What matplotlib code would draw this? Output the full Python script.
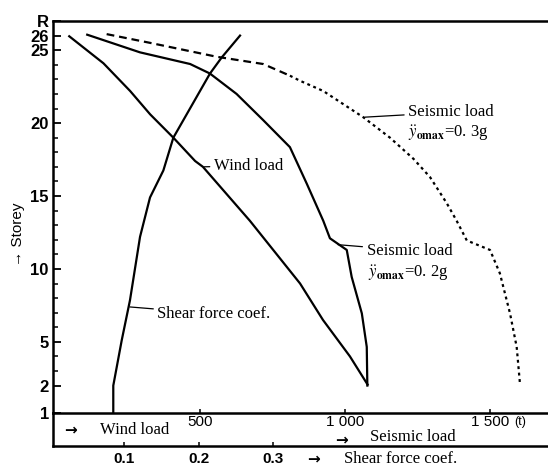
import matplotlib
matplotlib.use("Agg")
import matplotlib.pyplot as plt

plt.rcParams['font.family'] = ['Liberation Serif', 'DejaVu Sans']
plt.rcParams['mathtext.fontset'] = 'stix'

# ---------------- data ----------------
wind_storey = [26.0, 24.1, 22.2, 20.6, 19.0, 17.4, 17.0, 13.3, 9.0, 6.5, 4.0, 2.0]
wind_load = [46, 167, 259, 328, 408, 483, 510, 672, 845, 924, 1017, 1080]

seis02_storey = [26.06, 24.85, 24.05, 23.4, 22.0, 20.2, 18.35, 15.85, 13.3, 12.1, 11.3, 9.45, 6.95, 4.65, 2.0]
seis02_load = [111, 293, 466, 534, 626, 718, 810, 868, 925, 948, 1006, 1023, 1058, 1075, 1077]

seis03_storey = [26.1, 25.5, 24.55, 24.05, 23.25, 22.9, 22.2, 20.4, 19.0, 17.55, 16.3, 14.5, 13.3,
                 11.95, 11.3, 9.7, 6.95, 4.65, 2.2]
seis03_load = [178, 328, 557, 718, 810, 845, 925, 1063, 1155, 1236, 1293, 1351, 1385,
               1420, 1500, 1534, 1569, 1592, 1603]

ground_level = 0.12
shear_storey = [ground_level, 2.0, 5.1, 7.85, 12.2, 14.9, 16.75, 19.0, 23.4, 24.5, 26.0]
shear_coef = [0.0856, 0.0856, 0.0969, 0.108, 0.1215, 0.1349, 0.1528, 0.1662, 0.2154, 0.2311, 0.2557]

storey_tick_values = [ground_level, 2, 5, 10, 15, 20, 25, 26, 27]
storey_tick_labels = ["1", "2", "5", "10", "15", "20", "25", "26", "R"]
storey_minor = [3, 4, 6, 7, 8, 9, 11, 12, 13, 14, 16, 17, 18, 19, 21, 22, 23, 24]

load_ticks = [500, 1000, 1500]
load_tick_labels = ["500", "1 000", "1 500"]
coef_ticks = [0.1, 0.2, 0.3]
coef_tick_labels = ["0.1", "0.2", "0.3"]

load_lim = (-7, 1700)
coef_lim = (0.0047, 0.669)
storey_lim = (ground_level, 27)

# ---------------- figure ----------------
W, H = 548, 467
fig = plt.figure(figsize=(W / 100, H / 100), dpi=100)

def fx(px):
    return px / W

def fy(py):
    return 1 - py / H

ax = fig.add_axes([fx(53), fy(413), fx(548) - fx(53), fy(21) - fy(413)])
ax.set_xlim(*load_lim)
ax.set_ylim(*storey_lim)

lw = 1.6
ax.plot(wind_load, wind_storey, color='black', lw=lw, solid_capstyle='butt')
ax.plot(seis02_load, seis02_storey, color='black', lw=lw)
ax.plot(seis03_load[:5], seis03_storey[:5], color='black', lw=lw, dashes=(3.5, 2.2))
ax.plot(seis03_load[4:], seis03_storey[4:], color='black', lw=lw, dashes=(1.3, 1.6))

axc = ax.twiny()
axc.set_xlim(*coef_lim)
axc.plot(shear_coef, shear_storey, color='black', lw=lw)
axc.axis('off')

ax.spines['right'].set_visible(False)
for s in ['top', 'left', 'bottom']:
    ax.spines[s].set_linewidth(1.8)

ax.set_yticks(storey_tick_values)
ax.set_yticklabels(storey_tick_labels, fontfamily='Liberation Sans', fontweight='bold', fontsize=12)
ax.set_yticks(storey_minor, minor=True)
ax.tick_params(axis='y', which='major', direction='in', length=6, width=1.3, pad=3)
ax.tick_params(axis='y', which='minor', direction='in', length=3.5, width=1.1)

ax.set_xticks(load_ticks)
ax.set_xticklabels(load_tick_labels, fontfamily='Liberation Sans', fontsize=11)
ax.tick_params(axis='x', which='major', direction='in', length=3, width=1.1, pad=1.5)
ax.annotate("(t)", xy=(load_ticks[-1], 0), xycoords=('data', 'axes fraction'),
            xytext=(24, -9), textcoords='offset pixels', ha='left', va='center',
            fontfamily='Liberation Sans', fontsize=9)

# box below
axb = fig.add_axes([fx(53), fy(446), fx(548) - fx(53), fy(413) - fy(446)])
axb.set_xlim(*coef_lim)
axb.set_ylim(0, 1)
axb.patch.set_alpha(0)
axb.spines['right'].set_visible(False)
axb.spines['top'].set_visible(False)
axb.spines['left'].set_linewidth(1.8)
axb.spines['bottom'].set_linewidth(1.8)
axb.set_yticks([])
axb.set_xticks(coef_ticks)
axb.set_xticklabels(coef_tick_labels, fontfamily='Liberation Sans', fontweight='bold', fontsize=11)
axb.tick_params(axis='x', direction='in', length=3, width=1.1, pad=4)

# texts in/under box
arrow_kw = dict(fontfamily='DejaVu Sans', fontsize=11, fontweight='bold', va='center', ha='left')
fig.text(fx(64), fy(430), "→", **arrow_kw)
fig.text(fx(100), fy(430), "Wind load", fontsize=12, va='center', ha='left')
fig.text(fx(335), fy(440), "→", **arrow_kw)
fig.text(fx(370), fy(437), "Seismic load", fontsize=12, va='center', ha='left')
fig.text(fx(307), fy(459), "→", **arrow_kw)
fig.text(fx(344), fy(459), "Shear force coef.", fontsize=12, va='center', ha='left')

# y-axis title
fig.text(fx(18), fy(234), "→ Storey", rotation=90, fontfamily='Liberation Sans', fontsize=11,
         va='center', ha='center')

# annotations
arrow = dict(arrowstyle='-', color='black', lw=0.9, shrinkA=1, shrinkB=1)
ax.annotate("Wind load", xy=(wind_load[6], wind_storey[6]), xytext=(11, 1),
            textcoords='offset pixels', ha='left', va='center', fontsize=12, arrowprops=arrow)

axc.annotate("Shear force coef.", xy=(0.106, 7.4), xytext=(29, -7),
             textcoords='offset pixels', ha='left', va='center', fontsize=12, arrowprops=arrow)

p02 = (971, 11.67)
ax.annotate("Seismic load", xy=p02, xytext=(30, -6), textcoords='offset pixels',
            ha='left', va='center', fontsize=12, arrowprops=arrow)
ax.annotate(r"$\ddot{y}_{\mathbf{omax}}$=0. 2g", xy=p02, xytext=(31, -29), textcoords='offset pixels',
            ha='left', va='center', fontsize=12)

p03 = (seis03_load[7], seis03_storey[7])
ax.annotate("Seismic load", xy=p03, xytext=(45, 5), textcoords='offset pixels',
            ha='left', va='center', fontsize=12, arrowprops=arrow)
ax.annotate(r"$\ddot{y}_{\mathbf{omax}}$=0. 3g", xy=p03, xytext=(45, -16), textcoords='offset pixels',
            ha='left', va='center', fontsize=12)

fig.savefig("out.png", dpi=100)
